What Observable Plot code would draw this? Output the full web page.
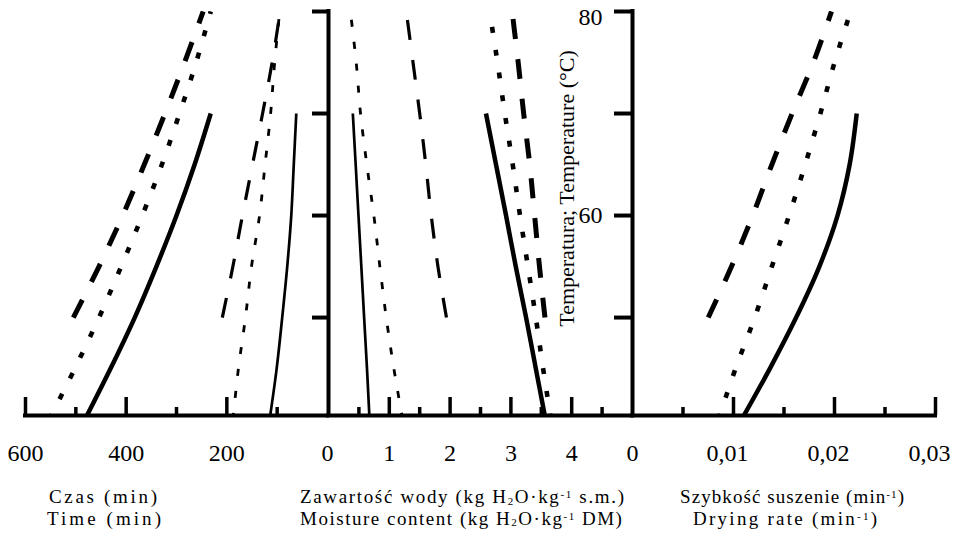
<!DOCTYPE html>
<html>
<head>
<meta charset="utf-8">
<script src="https://cdn.jsdelivr.net/npm/d3@7"></script>
<script src="https://cdn.jsdelivr.net/npm/@observablehq/plot@0.6"></script>
<style>
  html, body { margin: 0; padding: 0; background: #fff; }
  #chart { position: relative; width: 958px; height: 535px; overflow: hidden; font-family: "Liberation Serif", "Times New Roman", serif; color: #000; }
  #chart svg { position: absolute; left: 0; top: 0; }
  .t { position: absolute; width: 500px; text-align: center; font-size: 19px; line-height: 19px; white-space: nowrap; }
  .t sub, .t sup { font-size: 11px; line-height: 0; vertical-align: baseline; position: relative; }
  .t sub { top: 1.5px; }
  .t sup { top: -5px; }
</style>
</head>
<body>
<div id="chart"></div>
<script>
// ---------- data ----------
const temps40to70 = [40, 45, 50, 55, 60, 65, 70];
const temps40to80 = [40, 45, 50, 55, 60, 65, 70, 75, 80];
const temps50to80 = [50, 55, 60, 65, 70, 75, 80];

// Time (min) - thick group
const timeA_solid  = [482, 431, 383, 340, 300, 264, 232];
const timeA_dotted = [553, 502, 454, 410, 368, 329, 294, 261, 232];
const timeA_dashed = [505, 454, 407, 364, 323, 284, 247];
// Time (min) - thin group
const timeB_solid  = [115, 101, 90, 80, 72, 67, 62];
const timeB_dotted = [188, 177, 163, 151, 135, 124, 113, 105, 95];
const timeB_dashed = [209, 188, 169, 149, 129, 110, 94];

// Moisture content - thin group
const moistB_solid  = [0.675, 0.633, 0.586, 0.54, 0.493, 0.447, 0.40];
const moistB_dotted = [1.22, 1.075, 0.95, 0.845, 0.746, 0.63, 0.527, 0.456, 0.36];
const moistB_dashed = [1.94, 1.80, 1.69, 1.60, 1.50, 1.39, 1.28];
// Moisture content - thick group
const moistA_solid  = [3.57, 3.41, 3.25, 3.08, 2.92, 2.755, 2.59];
const moistA_dotted = [3.66, 3.53, 3.41, 3.28, 3.15, 3.03, 2.90, 2.78, 2.65];
const moistA_dashed = [3.56, 3.47, 3.39, 3.31, 3.21, 3.12, 3.02];

// Drying rate (1/min)
const rate_solid  = [0.0108, 0.0136, 0.0162, 0.0185, 0.0203, 0.0215, 0.0222];
const rate_dotted = [0.0085, 0.0102, 0.0121, 0.0138, 0.0155, 0.0171, 0.0186, 0.0200, 0.0216];
const rate_dashed = [0.0075, 0.0098, 0.0119, 0.0138, 0.0158, 0.0179, 0.0197];

// ticks and labels
const timeTicksMajor = [600, 400, 200];
const timeTicksMinor = [500, 300, 100];
const timeLabels = [600, 400, 200, 0];
const moistTicksMajor = [1, 2, 3, 4];
const moistTicksMinor = [0.5, 1.5, 2.5, 3.5, 4.5];
const moistLabels = [1, 2, 3, 4];
const rateTicksMajor = [0.01, 0.02, 0.03];
const rateTicksMinor = [0.005, 0.015, 0.025];
const rateZeroLabel = [0];
const rateLabels = [0.01, 0.02, 0.03];
const tempTicks = [50, 60, 70, 80];
const tempLabelTop = [80];
const tempLabelMid = [60];
const tempTitle = ["Temperatura; Temperature (°C)"];

// ---------- layout & styles ----------
const W = 958, H = 535, TOP = 11, BOTTOM = 120;
const FRAME_H = H - TOP - BOTTOM;
const Y_DOMAIN = [40.4, 80];
const ink = "black";
const FONT = "'Liberation Serif', 'Times New Roman', serif";

const thick = {
  solid:  {strokeWidth: 4.5},
  dotted: {strokeWidth: 4.6, strokeDasharray: "6,17"},
  dashed: {strokeWidth: 5, strokeDasharray: "20,20"}
};
const thin = {
  solid:  {strokeWidth: 2.7},
  dotted: {strokeWidth: 2.8, strokeDasharray: "7,15"},
  dashed: {strokeWidth: 3.2, strokeDasharray: "20,20"}
};

const line = (temps, vals, style) =>
  Plot.line(temps.map((t, i) => ({t, v: vals[i]})), {
    x: "v", y: "t", curve: "catmull-rom", stroke: ink,
    strokeLinecap: "butt", strokeLinejoin: "round", clip: true, ...style
  });

const baseAxis = () => Plot.ruleY([Y_DOMAIN[0]], {stroke: ink, strokeWidth: 4, strokeLinecap: "square"});
const majorTicks = (ticks) => Plot.ruleX(ticks, {stroke: ink, strokeWidth: 3.5, insetTop: FRAME_H - 18});
const minorTicks = (ticks) => Plot.ruleX(ticks, {stroke: ink, strokeWidth: 3.5, insetTop: FRAME_H - 8});
const tickText = (vals, fmt, dx = 0) => Plot.text(vals, {
  x: d => d, text: fmt, frameAnchor: "bottom", dy: 38, dx, fontSize: 24, fill: ink, lineAnchor: "middle"
});

function panel(xDomain, left, right, marks) {
  const svg = Plot.plot({
    width: W, height: H,
    marginTop: TOP, marginBottom: BOTTOM, marginLeft: left, marginRight: W - right,
    x: {domain: xDomain, axis: null},
    y: {domain: Y_DOMAIN, axis: null},
    style: {background: "transparent", fontFamily: FONT, fontSize: "24px", color: ink},
    marks
  });
  document.getElementById("chart").appendChild(svg);
}

const commaFmt = d => d === 0 ? "0" : d.toFixed(2).replace(".", ",");

// Panel 1: time (reversed)
panel([600, 0], 25, 327, [
  line(temps40to70, timeA_solid, thick.solid),
  line(temps40to80, timeA_dotted, thick.dotted),
  line(temps50to80, timeA_dashed, thick.dashed),
  line(temps40to70, timeB_solid, thin.solid),
  line(temps40to80, timeB_dotted, thin.dotted),
  line(temps50to80, timeB_dashed, thin.dashed),
  baseAxis(),
  majorTicks(timeTicksMajor),
  minorTicks(timeTicksMinor),
  Plot.ruleY(tempTicks, {stroke: ink, strokeWidth: 4, insetLeft: (327 - 25) - 15}),
  tickText(timeLabels, d => String(d))
]);

// Panel 2: moisture content
panel([0, 5], 328, 632, [
  line(temps40to70, moistB_solid, thin.solid),
  line(temps40to80, moistB_dotted, thin.dotted),
  line(temps50to80, moistB_dashed, thin.dashed),
  line(temps40to70, moistA_solid, thick.solid),
  line(temps40to80, moistA_dotted, thick.dotted),
  line(temps50to80, moistA_dashed, thick.dashed),
  baseAxis(),
  Plot.ruleX([0], {stroke: ink, strokeWidth: 4, strokeLinecap: "square"}),
  majorTicks(moistTicksMajor),
  minorTicks(moistTicksMinor),
  Plot.ruleY(tempTicks, {stroke: ink, strokeWidth: 4, insetLeft: (632 - 328) - 18}),
  tickText(moistLabels, d => String(d))
]);

// Panel 3: drying rate
panel([0, 0.03], 632, 935, [
  line(temps40to70, rate_solid, thick.solid),
  line(temps40to80, rate_dotted, thick.dotted),
  line(temps50to80, rate_dashed, thick.dashed),
  baseAxis(),
  Plot.ruleX([0], {stroke: ink, strokeWidth: 4, strokeLinecap: "square"}),
  majorTicks(rateTicksMajor),
  minorTicks(rateTicksMinor),
  tickText(rateZeroLabel, commaFmt),
  tickText(rateLabels, commaFmt, -6),
  Plot.text(tempLabelTop, {y: d => d, text: d => String(d), frameAnchor: "left", dx: -30, dy: 6, textAnchor: "end", fontSize: 24, fill: ink}),
  Plot.text(tempLabelMid, {y: d => d, text: d => String(d), frameAnchor: "left", dx: -30, textAnchor: "end", fontSize: 24, fill: ink}),
  Plot.text(tempTitle, {frameAnchor: "top-left", dx: -66, dy: 177, rotate: -90, textAnchor: "middle", lineAnchor: "middle", fontSize: 22, fill: ink})
]);

// Axis titles (HTML, below the plot area); widths measured on the reference
const titles = [
  {cx: 103, baseline: 503, width: 108, html: "Czas (min)"},
  {cx: 104, baseline: 524.5, width: 114, html: "Time (min)"},
  {cx: 462, baseline: 503, width: 324, html: "Zawartość wody (kg H<sub>2</sub>O·kg<sup>-1</sup> s.m.)"},
  {cx: 461, baseline: 524.5, width: 322, html: "Moisture content (kg H<sub>2</sub>O·kg<sup>-1</sup> DM)"},
  {cx: 792, baseline: 503, width: 224, html: "Szybkość suszenie (min<sup>-1</sup>)"},
  {cx: 785, baseline: 524.5, width: 184, html: "Drying rate (min<sup>-1</sup>)"}
];
const chart = document.getElementById("chart");
for (const t of titles) {
  const d = document.createElement("div");
  d.className = "t";
  const s = document.createElement("span");
  s.innerHTML = t.html;
  d.appendChild(s);
  d.style.left = (t.cx - 250) + "px";
  d.style.top = (t.baseline - 15.9) + "px";
  chart.appendChild(d);
  const w = s.getBoundingClientRect().width;
  const n = s.textContent.length;
  const ls = Math.max(0, (t.width - w) / Math.max(1, n - 1));
  s.style.letterSpacing = ls.toFixed(2) + "px";
  s.style.marginRight = (-ls).toFixed(2) + "px";
}
</script>
</body>
</html>
